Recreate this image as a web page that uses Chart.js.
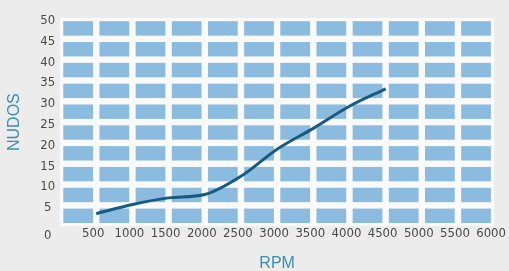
<!DOCTYPE html>
<html>
<head>
<meta charset="utf-8">
<script src="https://cdn.jsdelivr.net/npm/chart.js@4"></script>
<style>
  html, body { margin: 0; padding: 0; background: #ececec; }
  #wrap { width: 509px; height: 271px; position: relative; }
</style>
</head>
<body>
<div id="wrap"><canvas id="rpmChart"></canvas></div>
<script>
// values
const rpm = [500, 1000, 1500, 2000, 2500, 3000, 3500, 4000, 4500];
const nudos = [3, 5.2, 6.8, 7.6, 12, 18.5, 23.5, 28.8, 33];

const xTicks = [500, 1000, 1500, 2000, 2500, 3000, 3500, 4000, 4500, 5000, 5500, 6000];
const yTicks = [0, 5, 10, 15, 20, 25, 30, 35, 40, 45, 50];

const tickFont = { family: "'Liberation Sans Narrow', 'DejaVu Sans Condensed', 'Liberation Sans', sans-serif", size: 13 };
const titleFont = { family: "'Liberation Sans', Arial, sans-serif", size: 16 };

// white panel with a light-blue block in every 500 x 5 cell
const blockGrid = {
  id: 'blockGrid',
  beforeDatasetsDraw(chart) {
    const { ctx, scales: { x, y } } = chart;
    const x0 = x.getPixelForValue(0), x1 = x.getPixelForValue(6000);
    const y0 = y.getPixelForValue(0), y1 = y.getPixelForValue(50);
    ctx.save();
    ctx.fillStyle = '#fafafa';
    ctx.fillRect(x0, y1, x1 - x0, y0 - y1);
    ctx.fillStyle = '#8cbbe0';
    for (let i = 0; i < 6000; i += 500) {
      const l = x.getPixelForValue(i), r = x.getPixelForValue(i + 500);
      for (let j = 0; j < 50; j += 5) {
        const b = y.getPixelForValue(j), t = y.getPixelForValue(j + 5);
        ctx.fillRect(l + 3.2, t + 3.2, r - l - 6.4, b - t - 6.4);
      }
    }
    ctx.restore();
  }
};

new Chart(document.getElementById('rpmChart'), {
  type: 'line',
  data: {
    datasets: [{
      data: rpm.map((v, i) => ({ x: v, y: nudos[i] })),
      borderColor: '#175b80',
      borderWidth: 3,
      pointRadius: 0,
      cubicInterpolationMode: 'monotone',
      fill: false
    }]
  },
  options: {
    responsive: true,
    maintainAspectRatio: false,
    animation: false,
    layout: { padding: { top: 18, right: 7, bottom: -2, left: 5 } },
    plugins: { legend: { display: false }, tooltip: { enabled: false } },
    scales: {
      x: {
        type: 'linear',
        min: 0,
        max: 6000,
        border: { display: false },
        grid: { display: false, drawTicks: false, tickLength: 0 },
        afterBuildTicks: axis => { axis.ticks = xTicks.map(v => ({ value: v })); },
        ticks: {
          color: '#4a4a4a',
          font: tickFont,
          padding: 0,
          labelOffset: -3,
          maxRotation: 0,
          autoSkip: false,
          callback: v => String(v)
        },
        title: { display: true, text: 'RPM', color: '#3b8fb0', font: titleFont, padding: { top: 12, bottom: 0 } }
      },
      y: {
        min: 0,
        max: 50,
        border: { display: false },
        grid: { display: false, drawTicks: false, tickLength: 0 },
        // the printed "0" sits a bit below the baseline
        afterBuildTicks: axis => { axis.ticks = yTicks.map(v => ({ value: v === 0 ? -1.6 : v })); },
        ticks: {
          color: '#4a4a4a',
          font: tickFont,
          padding: 5,
          labelOffset: 2.5,
          crossAlign: 'center',
          callback: v => (v < 0 ? '0' : String(v))
        },
        title: { display: true, text: 'NUDOS', color: '#3b8fb0', font: titleFont, padding: { top: 0, bottom: 11 } }
      }
    }
  },
  plugins: [blockGrid]
});
</script>
</body>
</html>
